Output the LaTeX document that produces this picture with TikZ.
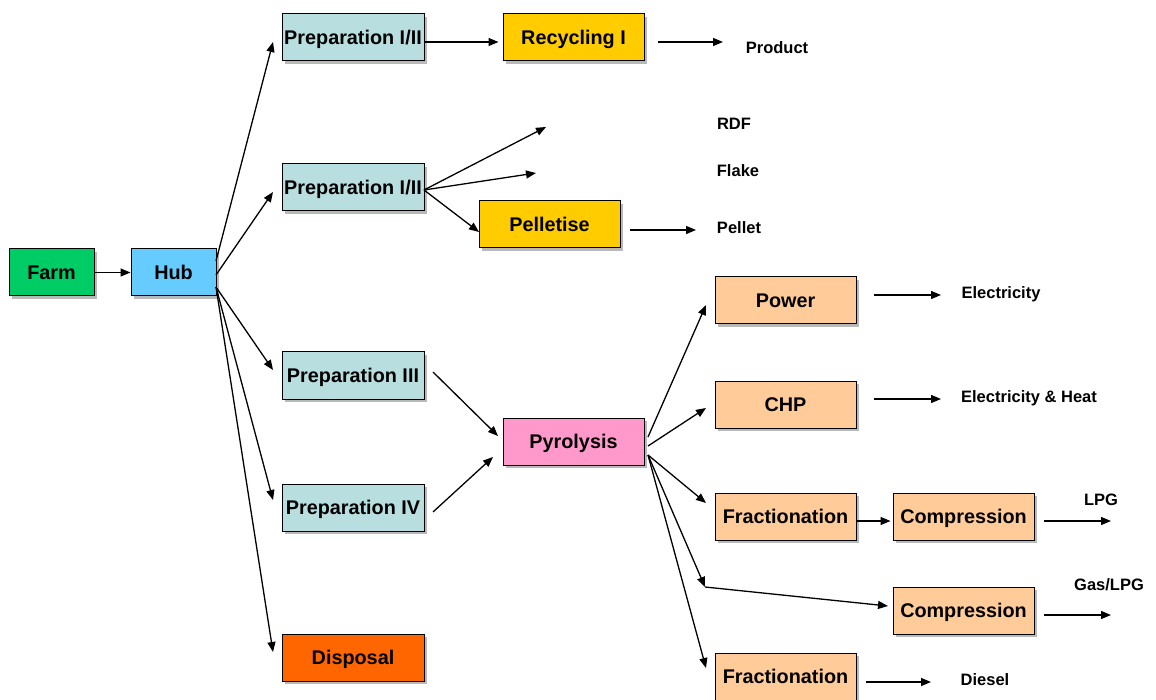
\documentclass[tikz,border=0pt]{standalone}
\usepackage{fontspec}
\setmainfont{Liberation Sans}
\usetikzlibrary{shadows,arrows.meta}
\definecolor{cfarm}{RGB}{0,204,102}
\definecolor{chub}{RGB}{102,204,255}
\definecolor{cprep}{RGB}{184,222,224}
\definecolor{cyel}{RGB}{255,204,0}
\definecolor{cpink}{RGB}{255,153,204}
\definecolor{corg}{RGB}{255,204,153}
\definecolor{cdisp}{RGB}{255,102,0}
\tikzset{
  box/.style={draw, line width=1pt, minimum width=141pt, minimum height=47pt, inner sep=0pt,
    font=\bfseries\fontsize{19.8}{23}\selectfont, text height=14.2pt, text depth=0pt,
    drop shadow={shadow xshift=3pt, shadow yshift=-3pt, fill=gray!55, opacity=1}},
  sbox/.style={box, minimum width=85pt},
  lbl/.style={font=\bfseries\fontsize{16.5}{19}\selectfont, inner sep=0pt, text height=11.8pt, text depth=0pt},
  arr/.style={line width=1.3pt, -{Triangle[length=10pt,width=8pt]}}
}
\begin{document}
\begin{tikzpicture}[x=1pt,y=-1pt]
\useasboundingbox (0,0) rectangle (1156,700);
% nodes
\node[sbox, fill=cfarm] (farm) at (51.5,272.5) {Farm};
\node[sbox, fill=chub] (hub) at (173.5,272.5) {Hub};
\node[box, fill=cprep, minimum width=142pt] (p1) at (353,37.5) {Preparation I/II};
\node[box, fill=cyel] (rec) at (573.5,37.5) {Recycling I};
\node[box, fill=cprep, minimum width=142pt] (p2) at (353,187.5) {Preparation I/II};
\node[box, fill=cyel] (pel) at (549.5,224.5) {Pelletise};
\node[box, fill=cprep, minimum width=142pt] (p3) at (353,375.5) {Preparation III};
\node[box, fill=cprep, minimum width=142pt] (p4) at (353,507.5) {Preparation IV};
\node[box, fill=cdisp, minimum width=142pt] (disp) at (353,657.5) {Disposal};
\node[box, fill=cpink] (pyr) at (573.5,441.5) {Pyrolysis};
\node[box, fill=corg] (pow) at (785.5,300.5) {Power};
\node[box, fill=corg] (chp) at (785.5,404.5) {CHP};
\node[box, fill=corg] (fr1) at (785.5,516.5) {Fractionation};
\node[box, fill=corg] (co1) at (963.5,516.5) {Compression};
\node[box, fill=corg] (co2) at (963.5,610.5) {Compression};
\node[box, fill=corg] (fr2) at (785.5,676.5) {Fractionation};
% labels
\node[lbl] (lprod) at (777,48) {Product};
\node[lbl] (lrdf) at (734,124) {RDF};
\node[lbl] (lflake) at (738,171) {Flake};
\node[lbl] (lpel) at (739,228) {Pellet};
\node[lbl] (lel) at (1001,293) {Electricity};
\node[lbl] (lelh) at (1029,397) {Electricity \& Heat};
\node[lbl] (llpg) at (1101,500) {LPG};
\node[lbl] (lgas) at (1109,585) {Gas/LPG};
\node[lbl] (ldie) at (985,680) {Diesel};
% coordinates
\coordinate (h1) at (216,261);
\coordinate (h2) at (216,275);
\coordinate (h3) at (216,287);
\coordinate (e1) at (273,42);
\coordinate (e2) at (273,192);
\coordinate (e3) at (273,370);
\coordinate (e4) at (273,500);
\coordinate (e5) at (273,652);
\coordinate (ps) at (424,190);
\coordinate (rdfend) at (546,127);
\coordinate (flend) at (536,173);
\coordinate (pe) at (479,232);
\coordinate (rs) at (658,42);
\coordinate (re) at (723,42);
\coordinate (pls) at (630,230);
\coordinate (ple) at (696,230);
\coordinate (p3s) at (433,372);
\coordinate (p3e) at (498,436);
\coordinate (p4s) at (433,512);
\coordinate (p4e) at (493,457);
\coordinate (y1) at (648,437);
\coordinate (y2) at (648,446);
\coordinate (y3) at (648,455);
\coordinate (powe) at (706,305);
\coordinate (chpe) at (706,408);
\coordinate (fr1e) at (706,503);
\coordinate (bend) at (705,587);
\coordinate (co2e) at (888,606);
\coordinate (fr2e) at (706,668);
\coordinate (pows) at (874,295);
\coordinate (powt) at (941,295);
\coordinate (chps) at (874,399);
\coordinate (chpt) at (941,399);
\coordinate (c1s) at (1044,521);
\coordinate (c1t) at (1111,521);
\coordinate (c2s) at (1044,615);
\coordinate (c2t) at (1111,615);
\coordinate (f2s) at (866,682);
\coordinate (f2t) at (931,682);
% connectors
\draw[arr] (farm.east) -- (hub.west);
\draw[arr] (h1) -- (e1);
\draw[arr] (h2) -- (e2);
\draw[arr] (h3) -- (e3);
\draw[arr] (h3) -- (e4);
\draw[arr] (h3) -- (e5);
\draw[arr] (p1.east |- e1) -- ([xshift=-4pt]rec.west |- e1);
\draw[arr] (rs) -- (re);
\draw[arr] (ps) -- (rdfend);
\draw[arr] (ps) -- (flend);
\draw[arr] (ps) -- (pe);
\draw[arr] (pls) -- (ple);
\draw[arr] (p3s) -- (p3e);
\draw[arr] (p4s) -- (p4e);
\draw[arr] (y1) -- (powe);
\draw[arr] (y2) -- (chpe);
\draw[arr] (y3) -- (fr1e);
\draw[arr] (y3) -- (bend);
\draw[arr] (bend) -- (co2e);
\draw[arr] (y3) -- (fr2e);
\draw[arr] (pows) -- (powt);
\draw[arr] (chps) -- (chpt);
\draw[arr] (fr1.east |- c1s) -- ([xshift=-2pt]co1.west |- c1s);
\draw[arr] (c1s) -- (c1t);
\draw[arr] (c2s) -- (c2t);
\draw[arr] (f2s) -- (f2t);
\end{tikzpicture}
\end{document}
